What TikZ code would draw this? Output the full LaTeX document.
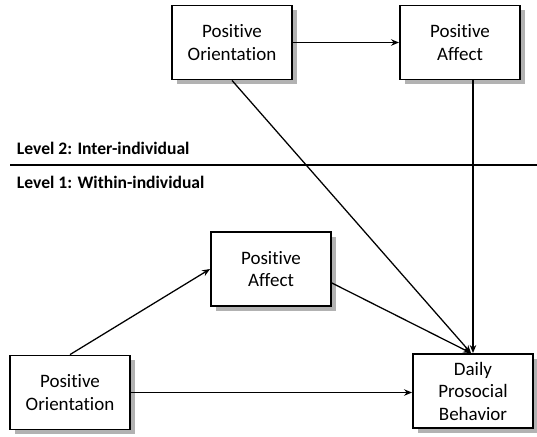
\documentclass[tikz,border=0pt]{standalone}
\usepackage{fontspec}
\setmainfont{Carlito}[Ligatures=NoCommon]
\usetikzlibrary{arrows.meta, shadows}
\begin{document}
\begin{tikzpicture}[x=0.025cm, y=-0.025cm, font=\fontsize{13.5}{16}\selectfont,
	box/.style={rectangle, draw=black, line width=1.3pt, fill=white, align=center,
		minimum width=3cm, minimum height=1.85cm, inner sep=2pt,
		drop shadow={shadow xshift=0.12cm, shadow yshift=-0.12cm, fill=black!30, opacity=1}},
	fl/.style={-{Stealth[length=2mm, width=1.6mm]}, line width=0.9pt},
	lvl/.style={font=\fontsize{12.5}{15}\selectfont\bfseries, anchor=west}]

	\useasboundingbox (0,0) rectangle (537,436);

	% --- level 2 ---
	\node[box] (po2) at (232,42.5) {Positive\\Orientation};
	\node[box] (pa2) at (460,42.5) {Positive\\Affect};

	% --- separator ---
	\node[lvl] (l2) at (12,148) {Level 2: Inter-individual};
	\node[lvl] (l1) at (12,182) {Level 1: Within-individual};
	\coordinate (sepL) at (10,165);
	\coordinate (sepR) at (537,165);
	\draw[line width=0.8pt] (sepL) -- (sepR);

	% --- level 1 ---
	\node[box] (pa1) at (271,269) {Positive\\Affect};
	\node[box] (po1) at (70,392.5) {Positive\\Orientation};
	\node[box] (dpb) at (473,391) {Daily\\Prosocial\\Behavior};

	% --- arrows ---
	\draw[fl] (po2) -- (pa2);
	\draw[fl] (po2.south) -- ([xshift=-0.05cm]dpb.north);
	\draw[fl] (dpb.north |- pa2.south) -- (dpb.north);
	\draw[fl] ([yshift=-0.35cm]pa1.east) -- ([xshift=-0.05cm]dpb.north);
	\draw[fl] (po1.north) -- (pa1.west);
	\draw[fl] (po1.east) -- (dpb.west |- po1.east);
\end{tikzpicture}
\end{document}
